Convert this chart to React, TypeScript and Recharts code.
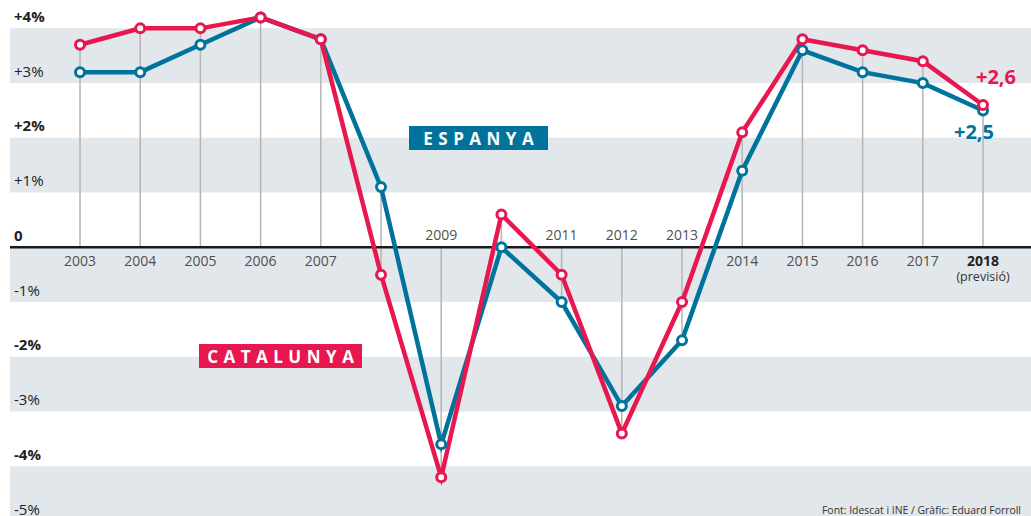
import React from "react";
import {
  ComposedChart,
  Line,
  XAxis,
  YAxis,
  ReferenceArea,
  ReferenceLine,
  Scatter,
  LabelList,
} from "recharts";

const years = [2003, 2004, 2005, 2006, 2007, 2008, 2009, 2010, 2011, 2012, 2013, 2014, 2015, 2016, 2017, 2018];
const catalunya = [3.7, 4.0, 4.0, 4.2, 3.8, -0.5, -4.2, 0.6, -0.5, -3.4, -1.0, 2.1, 3.8, 3.6, 3.4, 2.6];
const espanya = [3.2, 3.2, 3.7, 4.2, 3.8, 1.1, -3.6, 0.0, -1.0, -2.9, -1.7, 1.4, 3.6, 3.2, 3.0, 2.5];
const yearLabels = ["2003", "2004", "2005", "2006", "2007", "", "2009", "", "2011", "2012", "2013", "2014", "2015", "2016", "2017", "2018"];
const forecastNote = "(previsió)";
const yTicks = [4, 3, 2, 1, 0, -1, -2, -3, -4, -5];
const yTickLabels = ["+4%", "+3%", "+2%", "+1%", "0", "-1%", "-2%", "-3%", "-4%", "-5%"];
const endLabels = { cat: "+2,6", esp: "+2,5" };
const source = "Font: Idescat i INE / Gràfic: Eduard Forroll";

const PINK = "#e8174f";
const BLUE = "#00739c";
const BAND = "#e1e7eb";
const FONT = "'Open Sans', sans-serif";

const data = years.map((year, i) => ({
  year,
  cat: catalunya[i],
  esp: espanya[i],
  label: yearLabels[i],
  zero: 0,
}));

const lastIdx = years.length - 1;

// y labels sit just above their gridline, at the left edge
const yLabel = (v: number, i: number) => (props: any) => {
  const { viewBox } = props;
  const bold = v % 2 === 0;
  return (
    <text x={14} y={viewBox.y - 6.5} fontSize={15} fontFamily={FONT} fontWeight={bold ? 700 : 400} fill="#222">
      {yTickLabels[i]}
    </text>
  );
};

const YearLabel = (props: any) => {
  const { cx, cy, payload } = props;
  if (!payload || !payload.label) return <g />;
  const above = payload.cat < 0 && payload.esp < 0;
  const isLast = payload.year === years[lastIdx];
  return (
    <g>
      <text
        x={cx}
        y={above ? cy - 7 : cy + 19}
        textAnchor="middle"
        fontSize={14}
        fontFamily={FONT}
        fontWeight={isLast ? 700 : 400}
        fill={isLast ? "#222" : "#505050"}
      >
        {payload.label}
      </text>
      {isLast && (
        <text x={cx} y={cy + 34} textAnchor="middle" fontSize={12.5} fontFamily={FONT} fill="#333">
          {forecastNote}
        </text>
      )}
    </g>
  );
};

const makeDot = (color: string) => (props: any) => {
  const { cx, cy, index } = props;
  return <circle key={`d-${color}-${index}`} cx={cx} cy={cy} r={4.5} fill="#fff" stroke={color} strokeWidth={3} />;
};

const endLabel = (text: string, color: string, dx: number, dy: number) => (props: any) => {
  const { x, y, index } = props;
  if (index !== lastIdx) return null;
  return (
    <text x={x + dx} y={y + dy} textAnchor="middle" fontSize={20} fontWeight={700} fontFamily={FONT} fill={color}>
      {text}
    </text>
  );
};

const tagStyle = (bg: string, left: number, top: number, width: number): React.CSSProperties => ({
  position: "absolute",
  left,
  top,
  width,
  height: 24,
  background: bg,
  color: "#fff",
  fontFamily: FONT,
  fontWeight: 700,
  fontSize: 17,
  letterSpacing: 5.5,
  paddingLeft: 5.5,
  boxSizing: "border-box",
  display: "flex",
  alignItems: "center",
  justifyContent: "center",
  lineHeight: 1,
});

export default function App() {
  return (
    <div style={{ position: "absolute", left: 0, top: 0, width: 1031, height: 516, overflow: "hidden", background: "#fff" }}>
      <ComposedChart width={1031} height={521} data={data} margin={{ top: 1, right: 0, bottom: 0, left: 10 }}>
        <XAxis dataKey="year" type="number" domain={[2001.837, 2018.797]} hide />
        <YAxis type="number" domain={[-5, 4.5]} ticks={yTicks} hide />
        {yTicks
          .filter((v) => v % 2 === 0)
          .map((v) => (
            <ReferenceArea key={`band-${v}`} y1={v - 1} y2={v} fill={BAND} fillOpacity={1} stroke="none" ifOverflow="visible" />
          ))}
        {yTicks.map((v, i) => (
          <ReferenceLine key={`yl-${v}`} y={v} stroke="none" ifOverflow="visible" label={yLabel(v, i)} />
        ))}
        {data.map((d) => (
          <ReferenceLine
            key={`v-${d.year}`}
            segment={[
              { x: d.year, y: Math.min(0, d.cat, d.esp) },
              { x: d.year, y: Math.max(0, d.cat, d.esp) },
            ]}
            stroke="#b5b5b5"
            strokeWidth={1.5}
          />
        ))}
        <ReferenceLine y={0} stroke="#1a1a1a" strokeWidth={2.5} />
        <Scatter dataKey="zero" shape={<YearLabel />} isAnimationActive={false} />
        <Line
          type="linear"
          dataKey="esp"
          stroke={BLUE}
          strokeWidth={4.5}
          dot={makeDot(BLUE)}
          activeDot={false}
          isAnimationActive={false}
        >
          <LabelList dataKey="esp" content={endLabel(endLabels.esp, BLUE, -9, 29)} />
        </Line>
        <Line
          type="linear"
          dataKey="cat"
          stroke={PINK}
          strokeWidth={4.5}
          dot={makeDot(PINK)}
          activeDot={false}
          isAnimationActive={false}
        >
          <LabelList dataKey="cat" content={endLabel(endLabels.cat, PINK, 13, -21)} />
        </Line>
      </ComposedChart>
      <div style={tagStyle(BLUE, 409, 126, 139)}>ESPANYA</div>
      <div style={tagStyle(PINK, 199, 344, 163)}>CATALUNYA</div>
      <svg style={{ position: "absolute", left: 0, top: 0 }} width={1031} height={516}>
        <text x={1021} y={514} textAnchor="end" fontSize={11} fontFamily={FONT} fill="#333" textLength={199} lengthAdjust="spacingAndGlyphs">
          {source}
        </text>
      </svg>
    </div>
  );
}
